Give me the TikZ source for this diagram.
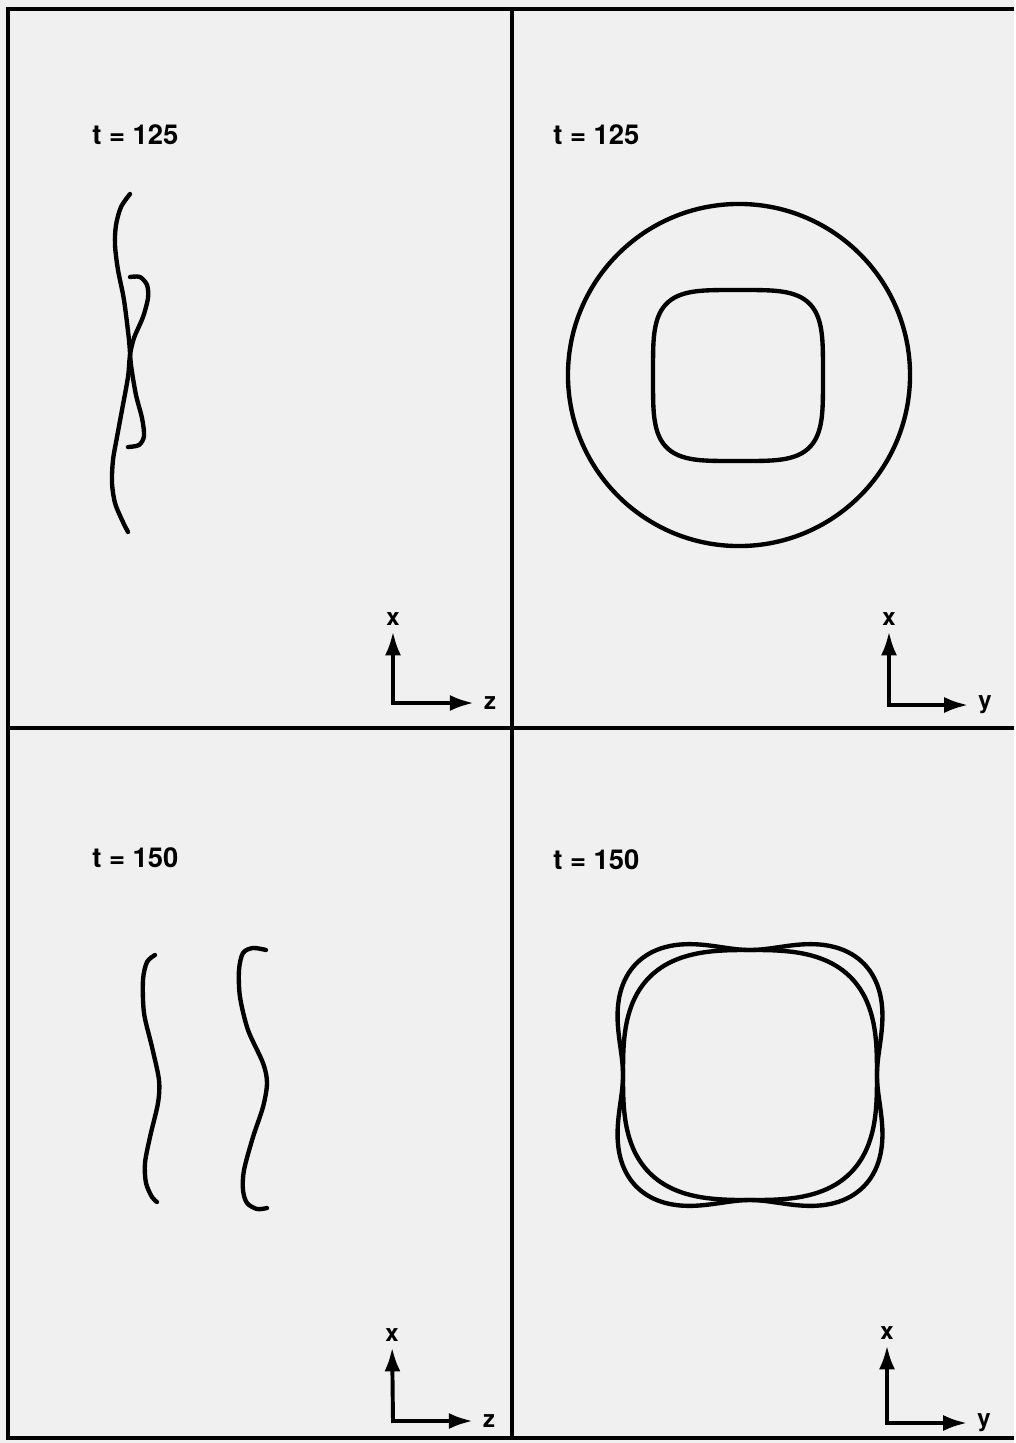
\documentclass[tikz,border=0pt]{standalone}
\usepackage{fontspec}
\setmainfont{TeX Gyre Heros}
\usetikzlibrary{arrows.meta}
\tikzset{
  panel/.style={line width=2.2pt},
  ring/.style={line width=3.1pt, line cap=round, line join=round},
  axis/.style={line width=2.8pt, line cap=rect, -{Latex[length=6mm,width=4mm]}},
  axlabel/.style={font=\bfseries\fontsize{17}{19}\selectfont, inner xsep=7pt, inner ysep=4pt},
  timelabel/.style={font=\bfseries\fontsize{19.5}{21}\selectfont, anchor=west, inner sep=0pt},
}
\begin{document}
\begin{tikzpicture}[x=0.025cm, y=-0.025cm,
  declare function={
    rsq(\t)=85/pow(pow(abs(cos(\t)),4)+pow(0.994*abs(sin(\t)),4),0.25);
    rin(\t)=127/pow(pow(abs(cos(\t)),2.9)+pow(1.016*abs(sin(\t)),2.9),1/2.9);
    rout(\t)=rin(\t)+19*pow(sin(2*\t),2);
  }]
% background and panel frame
\fill[black!6] (0,0) rectangle (1014,1443);
\draw[panel] (1014,9) -- (8,9) -- (8,1438) -- (1014,1438);
\draw[panel] (512,9) -- (512,1438);
\draw[panel] (8,728) -- (1014,728);
% time labels
\node[timelabel] (tTL) at (92,135) {t = 125};
\node[timelabel] (tTR) at (553,135) {t = 125};
\node[timelabel] (tBL) at (92,858) {t = 150};
\node[timelabel] (tBR) at (553,860) {t = 150};
% t = 125, x-z view: crossing filaments
\draw[ring] plot[smooth] coordinates {(130,194) (121,207) (116,225) (115,245) (118,270)
  (124,300) (129,340) (131,365) (136,395) (142,418) (144,436) (139,445) (128,447)};
\draw[ring] plot[smooth] coordinates {(130,277) (140,277) (147,285) (148,298) (143,317)
  (134,338) (130,355) (128,377) (122,410) (117,437) (113,460) (112,483) (115,503)
  (122,520) (128,532)};
% t = 125, x-y view: ring and rounded square
\draw[ring] (739,375) circle[radius=4.275cm];
\draw[ring] plot[smooth cycle, domain=1:358, samples=120]
  ({738+rsq(\x)*cos(\x)}, {375.5+rsq(\x)*sin(\x)});
% t = 150, x-z view: two filaments
\draw[ring] plot[smooth] coordinates {(155,955) (147,962) (143,980) (144,1013) (152,1047)
  (159,1080) (158,1103) (150,1137) (145,1163) (146,1183) (152,1197) (157,1202)};
\draw[ring] plot[smooth] coordinates {(266,950) (253,948) (243,953) (239,970) (240,997)
  (248,1030) (263,1063) (267,1083) (263,1107) (253,1137) (244,1170) (243,1190)
  (247,1203) (257,1209) (267,1208)};
% t = 150, x-y view: two overlapping rings
\draw[ring] plot[smooth cycle, domain=1:358, samples=120]
  ({750+rin(\x)*cos(\x)}, {1075+rin(\x)*sin(\x)});
\draw[ring] plot[smooth cycle, domain=1:358, samples=120]
  ({750+rout(\x)*cos(\x)}, {1075+rout(\x)*sin(\x)});
% axes
\coordinate (oTL) at (393,703);
\node[axlabel] (xTL) at (393,619) {x};
\node[axlabel] (zTL) at (490,703) {z};
\draw[axis] (oTL) -- (xTL);
\draw[axis] (oTL) -- (zTL);
\coordinate (oTR) at (889,705);
\node[axlabel] (xTR) at (889,619) {x};
\node[axlabel] (yTR) at (985,705) {y};
\draw[axis] (oTR) -- (xTR);
\draw[axis] (oTR) -- (yTR);
\coordinate (oBL) at (393,1421);
\node[axlabel] (xBL) at (392,1335) {x};
\node[axlabel] (zBL) at (489,1421) {z};
\draw[axis] (oBL) -- (xBL);
\draw[axis] (oBL) -- (zBL);
\coordinate (oBR) at (887,1423);
\node[axlabel] (xBR) at (887,1333) {x};
\node[axlabel] (yBR) at (984,1423) {y};
\draw[axis] (oBR) -- (xBR);
\draw[axis] (oBR) -- (yBR);
\end{tikzpicture}
\end{document}
